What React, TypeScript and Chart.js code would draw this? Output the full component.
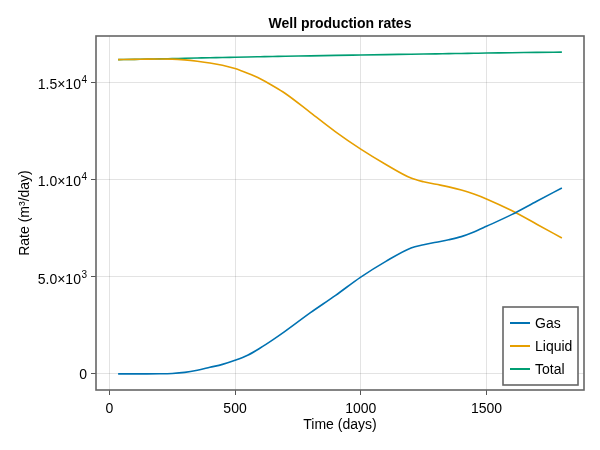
import React, { useEffect, useRef } from 'react';
import { Chart, registerables } from 'chart.js';

Chart.register(...registerables);

// production data
const days = [35, 100, 150, 200, 250, 300, 350, 400, 450, 500, 550, 600, 650, 700, 800, 900, 1000, 1100, 1200, 1250, 1300, 1350, 1400, 1450, 1500, 1600, 1700, 1800];
const gasRate = [0, 0, 0, 5, 25, 80, 190, 340, 490, 700, 960, 1330, 1750, 2200, 3150, 4040, 4980, 5790, 6480, 6640, 6770, 6900, 7060, 7300, 7590, 8190, 8880, 9560];
const liquidRate = [16160, 16175, 16190, 16195, 16190, 16150, 16080, 15990, 15870, 15700, 15460, 15180, 14820, 14420, 13440, 12450, 11560, 10770, 10070, 9880, 9750, 9620, 9460, 9250, 9000, 8400, 7700, 6990];
const totalRate = [16160, 16175, 16190, 16200, 16215, 16230, 16245, 16260, 16270, 16285, 16298, 16310, 16322, 16335, 16355, 16380, 16400, 16420, 16440, 16450, 16460, 16470, 16480, 16490, 16500, 16515, 16535, 16550];

const seriesNames = ['Gas', 'Liquid', 'Total'];
const seriesColors = ['rgb(0,114,178)', 'rgb(230,159,0)', 'rgb(0,158,115)'];

const xTicks = [0, 500, 1000, 1500];
const yTicks = [0, 5000, 10000, 15000];
// y tick labels split into mantissa part and superscript exponent
const yTickBase = ['0', '5.0×10', '1.0×10', '1.5×10'];
const yTickExp = ['', '3', '4', '4'];

const FONT = '"Liberation Sans", Arial, Helvetica, sans-serif';

const framePlugin = {
  id: 'frame',
  afterDraw(chart: any) {
    const { ctx, chartArea } = chart;
    const { left, right, top, bottom } = chartArea;
    ctx.save();

    // y tick labels with real superscripts
    const yScale = chart.scales.y;
    ctx.fillStyle = '#000';
    ctx.textBaseline = 'alphabetic';
    ctx.textAlign = 'left';
    yTicks.forEach((v, i) => {
      const py = yScale.getPixelForValue(v);
      const base = yTickBase[i];
      const exp = yTickExp[i];
      ctx.font = `14px ${FONT}`;
      const bw = ctx.measureText(base).width;
      ctx.font = `10px ${FONT}`;
      const ew = exp ? ctx.measureText(exp).width + 0.5 : 0;
      const x0 = left - 9 - bw - ew;
      const shift = exp ? 2 : 0;
      ctx.font = `14px ${FONT}`;
      ctx.fillText(base, x0, py + 5 + shift);
      if (exp) {
        ctx.font = `10px ${FONT}`;
        ctx.fillText(exp, x0 + bw + 0.5, py + 1);
      }
    });

    // spines all round
    ctx.strokeStyle = '#666';
    ctx.lineWidth = 1.6;
    ctx.strokeRect(left, top, right - left, bottom - top);

    // title
    ctx.fillStyle = '#000';
    ctx.font = `bold 14px ${FONT}`;
    ctx.textAlign = 'center';
    ctx.textBaseline = 'alphabetic';
    ctx.fillText('Well production rates', (left + right) / 2, 28);

    // legend, bottom right inside the axes
    const boxW = 75;
    const boxH = 78;
    const bx = right - 6 - boxW;
    const by = bottom - 5 - boxH;
    ctx.fillStyle = '#fff';
    ctx.fillRect(bx, by, boxW, boxH);
    ctx.strokeStyle = '#666';
    ctx.lineWidth = 1.6;
    ctx.strokeRect(bx, by, boxW, boxH);
    ctx.font = `14px ${FONT}`;
    ctx.textAlign = 'left';
    ctx.textBaseline = 'middle';
    chart.data.datasets.forEach((ds: any, i: number) => {
      const ry = by + 16 + i * 23;
      ctx.strokeStyle = ds.borderColor;
      ctx.lineWidth = 2;
      ctx.beginPath();
      ctx.moveTo(bx + 7, ry);
      ctx.lineTo(bx + 27, ry);
      ctx.stroke();
      ctx.fillStyle = '#000';
      ctx.fillText(ds.label, bx + 32, ry + 1);
    });
    ctx.restore();
  },
};

const App: React.FC = () => {
  const canvasRef = useRef<HTMLCanvasElement | null>(null);

  useEffect(() => {
    if (!canvasRef.current) return;

    const toPoints = (vals: number[]) => days.map((d, i) => ({ x: d, y: vals[i] }));
    const allSeries = [gasRate, liquidRate, totalRate];

    const chart = new Chart(canvasRef.current, {
      type: 'line',
      data: {
        datasets: allSeries.map((vals, i) => ({
          label: seriesNames[i],
          data: toPoints(vals),
          borderColor: seriesColors[i],
          backgroundColor: seriesColors[i],
          borderWidth: 1.6,
          pointRadius: 0,
          fill: false,
          cubicInterpolationMode: 'monotone' as const,
        })),
      },
      options: {
        animation: false,
        responsive: true,
        maintainAspectRatio: false,
        layout: { padding: { top: 36, right: 16, bottom: 0, left: 0 } },
        plugins: {
          legend: { display: false },
          title: { display: false },
          tooltip: { enabled: false },
        },
        scales: {
          x: {
            type: 'linear',
            min: -53,
            max: 1888,
            afterFit: (scale: any) => {
              scale.height = 60;
            },
            afterBuildTicks: (scale: any) => {
              scale.ticks = xTicks.map((v) => ({ value: v }));
            },
            grid: {
              color: 'rgba(0,0,0,0.11)',
              lineWidth: 1,
              drawTicks: true,
              tickLength: 5,
              tickColor: '#555',
            },
            border: { display: false },
            ticks: {
              color: '#000',
              font: { family: FONT, size: 14 },
              padding: 6,
              maxRotation: 0,
              callback: (value: any) => String(value),
            },
            title: {
              display: true,
              text: 'Time (days)',
              color: '#000',
              font: { family: FONT, size: 14 },
              padding: { top: 0, bottom: 16 },
            },
          },
          y: {
            type: 'linear',
            min: -827,
            max: 17377,
            afterFit: (scale: any) => {
              scale.width = 96;
            },
            afterBuildTicks: (scale: any) => {
              scale.ticks = yTicks.map((v) => ({ value: v }));
            },
            grid: {
              color: 'rgba(0,0,0,0.11)',
              lineWidth: 1,
              drawTicks: true,
              tickLength: 5,
              tickColor: '#555',
            },
            border: { display: false },
            ticks: {
              // labels are drawn by the frame plugin (superscripts)
              color: 'rgba(0,0,0,0)',
              font: { family: FONT, size: 14 },
              padding: 4,
              callback: () => '',
            },
            title: {
              display: true,
              text: 'Rate (m³/day)',
              color: '#000',
              font: { family: FONT, size: 14 },
              padding: { top: 17, bottom: 0 },
            },
          },
        },
      },
      plugins: [framePlugin],
    });

    return () => {
      chart.destroy();
    };
  }, []);

  return (
    <div style={{ position: 'absolute', left: 0, top: 0, width: 600, height: 450, background: '#fff' }}>
      <canvas ref={canvasRef}></canvas>
    </div>
  );
};

export default App;
